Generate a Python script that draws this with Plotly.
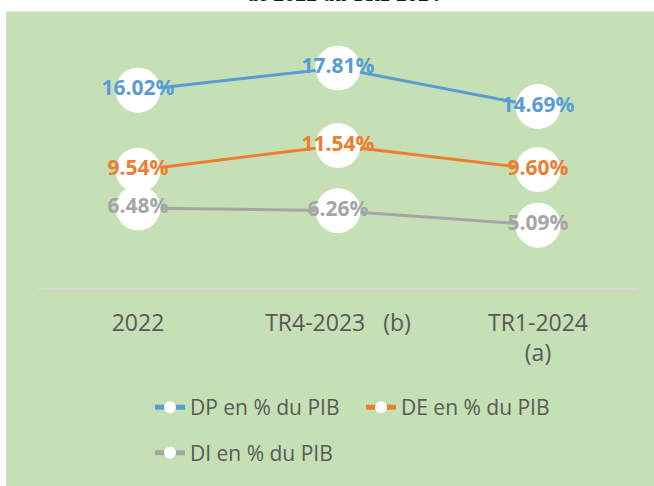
import plotly.graph_objects as go

categories = ["2022", "TR4-2023   (b)", "TR1-2024<br>(a)"]
dp_values = [16.02, 17.81, 14.69]
de_values = [9.54, 11.54, 9.60]
di_values = [6.48, 6.26, 5.09]
series_names = ["DP en % du PIB", "DE en % du PIB", "DI en % du PIB"]
series_colors = ["#5B9BD5", "#ED7D31", "#A5A5A5"]
title_text = "de 2022 au TR1 2024"

FONT = "Open Sans"
W, H = 654, 486
# desired plot area in page pixels
PX0, PX1, PY0, PY1 = 38, 638, 41, 291
L, T = PX0, PY0
R, B = W - PX1, H - PY1
PW, PH = PX1 - PX0, PY1 - PY0


def px_x(p):
    return (p - PX0) / PW


def px_y(p):
    return (PY1 - p) / PH


fig = go.Figure()
for i, (name, vals, col) in enumerate(zip(series_names, [dp_values, de_values, di_values], series_colors)):
    fig.add_trace(go.Scatter(
        x=categories, y=vals, name=name,
        mode="lines+markers+text",
        line=dict(color=col, width=3),
        marker=dict(color="white", size=45, line=dict(width=0)),
        text=[f"{v:.2f}%" for v in vals],
        textposition="middle center",
        textfont=dict(family=FONT, size=21, color=col, weight="bold"),
        cliponaxis=False,
        legend="legend" if i < 2 else "legend2",
    ))

fig.update_layout(
    width=W, height=H,
    margin=dict(l=L, r=R, t=T, b=B, pad=0),
    paper_bgcolor="white",
    plot_bgcolor="rgba(0,0,0,0)",
    showlegend=True,
    xaxis=dict(
        type="category", range=[-0.5, 2.5],
        showline=True, linecolor="#D9D9D9", linewidth=1.5,
        showgrid=False, zeroline=False, ticks="",
        tickfont=dict(family=FONT, size=23, color="#595959"),
        ticklabelstandoff=14,
        fixedrange=True,
    ),
    yaxis=dict(
        range=[0, 20], visible=False, showgrid=False, zeroline=False,
        fixedrange=True,
    ),
    legend=dict(
        orientation="h", x=px_x(150), xanchor="left", y=px_y(412), yanchor="middle",
        font=dict(family=FONT, size=21, color="#595959"),
        bgcolor="rgba(0,0,0,0)", itemsizing="constant", entrywidth=166,
        traceorder="normal",
    ),
    legend2=dict(
        orientation="h", x=px_x(150), xanchor="left", y=px_y(458), yanchor="middle",
        font=dict(family=FONT, size=21, color="#595959"),
        bgcolor="rgba(0,0,0,0)", itemsizing="constant",
    ),
    shapes=[dict(
        type="rect", xref="paper", yref="paper", layer="below",
        x0=px_x(6.5), x1=px_x(W + 30), y0=px_y(H + 30), y1=px_y(11.5),
        fillcolor="#C5E0B4", line=dict(color="#D9D9D9", width=1),
    )],
    annotations=[dict(
        text=title_text, xref="paper", yref="paper",
        x=px_x(344), y=px_y(-7), xanchor="center", yanchor="middle",
        showarrow=False,
        font=dict(family="Liberation Serif", size=22, color="#1a1a1a", style="italic", weight="bold"),
    )],
)

fig.write_html("out.html", config={"displayModeBar": False},
               post_script="document.body.style.margin='0px';")
